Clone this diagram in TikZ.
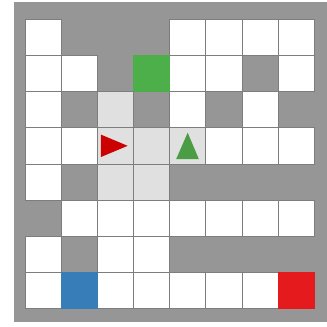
\documentclass[tikz,border=0pt]{standalone}
\usepackage{tikz}
\usetikzlibrary{calc}
\definecolor{wallgray}{RGB}{150,150,150}
\definecolor{seengray}{RGB}{224,224,224}
\definecolor{edgegray}{RGB}{125,125,125}
\definecolor{goalgreen}{RGB}{77,175,74}
\definecolor{keyblue}{RGB}{55,126,184}
\definecolor{lavared}{RGB}{228,26,28}
\definecolor{agentred}{RGB}{204,0,0}
\definecolor{agentgreen}{RGB}{74,157,68}
\tikzset{
  freecell/.style={draw=edgegray, line width=0.6pt, fill=white},
  seencell/.style={draw=edgegray, line width=0.6pt, fill=seengray},
  goalcell/.style={draw=goalgreen, line width=0.6pt, fill=goalgreen},
  keycell/.style={draw=keyblue, line width=0.6pt, fill=keyblue},
  lavacell/.style={draw=lavared, line width=0.6pt, fill=lavared}
}

\begin{document}
\begin{tikzpicture}[x=1cm, y=1cm]
  \useasboundingbox (-0.692,-0.506) rectangle (8.354,8.534);
  \fill[wallgray] (-0.304,-0.368) rectangle (8.354,8.479);

  % open floor
  \foreach \c/\r in {0/0,4/0,5/0,6/0,7/0,
                     0/1,1/1,4/1,5/1,7/1,
                     0/2,4/2,6/2,
                     0/3,1/3,5/3,6/3,7/3,
                     0/4,
                     1/5,2/5,3/5,4/5,5/5,6/5,7/5,
                     0/6,2/6,3/6,
                     0/7,2/7,3/7,4/7,5/7,6/7}
    \draw[freecell] (\c,7-\r) rectangle ++(1,1);

  % visited floor
  \foreach \c/\r in {2/2,2/3,3/3,4/3,2/4,3/4}
    \draw[seencell] (\c,7-\r) rectangle ++(1,1);

  \draw[goalcell] (3,6) rectangle ++(1,1);
  \draw[keycell] (1,0) rectangle ++(1,1);
  \draw[lavacell] (7,0) rectangle ++(1,1);

  % agents
  \coordinate (redpos) at (2,4);
  \coordinate (greenpos) at (4,4);
  \fill[agentred] ($(redpos)+(0.10,0.81)$) -- ($(redpos)+(0.84,0.5)$)
    -- ($(redpos)+(0.10,0.19)$) -- cycle;
  \fill[agentgreen] ($(greenpos)+(0.18,0.13)$) -- ($(greenpos)+(0.5,0.863)$)
    -- ($(greenpos)+(0.81,0.13)$) -- cycle;
\end{tikzpicture}
\end{document}
